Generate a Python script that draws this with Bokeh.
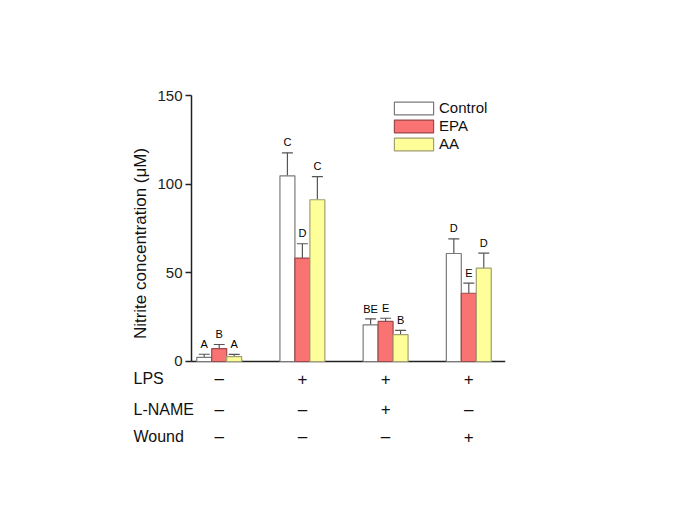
import math
from bokeh.plotting import figure
from bokeh.models import Range1d, ColumnDataSource, Legend, LegendItem, FixedTicker
from bokeh.core.properties import value
from bokeh.embed import file_html
from bokeh.resources import INLINE

# ---- data ----
groups = [0, 1, 2, 3]
series = ["Control", "EPA", "AA"]
control_mean = [2.3, 104.7, 20.7, 60.9]
control_err = [1.8, 13.0, 3.3, 8.3]
epa_mean = [7.3, 58.3, 22.6, 38.5]
epa_err = [2.3, 8.1, 1.8, 5.7]
aa_mean = [2.8, 91.2, 15.1, 52.6]
aa_err = [1.2, 13.1, 2.4, 8.5]
control_letters = ["A", "C", "BE", "D"]
epa_letters = ["B", "D", "E", "E"]
aa_letters = ["A", "C", "B", "D"]
row_names = ["LPS", "L-NAME", "Wound"]
lps = ["–", "+", "+", "+"]
lname = ["–", "–", "+", "–"]
wound = ["–", "–", "–", "+"]
y_ticks = [0, 50, 100, 150]
y_label = "Nitrite concentration (μM)"

FONT = "Liberation Sans"
fills = ["#ffffff", "#fa7373", "#ffff99"]
borders = ["#7a7a7a", "#9a4a4a", "#a0a070"]
offsets = [-0.18, 0.0, 0.18]
bar_w = 0.18

PX = 83.2   # px per group unit
PY = 1.7733 # px per y unit
XA = -27.7 / PX                 # y-axis position (data)
X1 = XA + 314 / PX              # right end of baseline
XS = XA - 91 / PX               # frame start (room for row names)
p = figure(width=677, height=498, output_backend="svg", toolbar_location=None,
           x_range=Range1d(XS, X1), y_range=Range1d(-60.34, 169.74),
           min_border_left=100, min_border_right=172, min_border_top=60,
           min_border_bottom=30)
p.outline_line_color = None
p.xgrid.visible = False
p.ygrid.visible = False
p.xaxis.visible = False
p.background_fill_color = "white"
p.border_fill_color = "white"

ax = p.yaxis[0]
ax.fixed_location = XA
ax.bounds = (0, 150)
ax.ticker = FixedTicker(ticks=y_ticks)
ax.axis_line_width = 1.5
ax.axis_line_color = "#222222"
ax.major_tick_line_color = "#222222"
ax.major_tick_line_width = 1.5
ax.major_tick_out = 6
ax.major_tick_in = 0
ax.minor_tick_line_color = None
ax.major_label_text_font = FONT
ax.major_label_text_font_size = "15px"
ax.major_label_text_color = "#222222"
ax.major_label_standoff = 3

# y-axis title
p.text(x=[XA - 51 / PX], y=[(361 - 243) / PY], text=[y_label], angle=math.pi / 2,
       text_font=value(FONT), text_font_size="17px", text_align="center",
       text_baseline="middle", text_color="#111111")

# baseline (x axis line at 0)
p.segment(x0=[XA], y0=[0], x1=[X1], y1=[0], line_color="#222222", line_width=1.5)

means = [control_mean, epa_mean, aa_mean]
errs = [control_err, epa_err, aa_err]
letters = [control_letters, epa_letters, aa_letters]
legend_items = []
for i in range(3):
    xs = [g + offsets[i] for g in groups]
    tops = [m + e for m, e in zip(means[i], errs[i])]
    src = ColumnDataSource(dict(x=xs, top=means[i], etop=tops, lab=letters[i],
                                xl=[x - 0.066 for x in xs], xr=[x + 0.066 for x in xs],
                                ly=[t + 2.5 for t in tops]))
    p.segment(x0="x", y0="top", x1="x", y1="etop", source=src, line_color="#555555", line_width=1.2)
    p.segment(x0="xl", y0="etop", x1="xr", y1="etop", source=src, line_color="#555555", line_width=1.2)
    r = p.vbar(x="x", top="top", bottom=0, width=bar_w, source=src,
               fill_color=fills[i], line_color=borders[i], line_width=1.2)
    legend_items.append(LegendItem(label=series[i], renderers=[r]))
    p.text(x="x", y="ly", text="lab", source=src, text_font=value(FONT),
           text_font_size="11px", text_align="center", text_baseline="bottom",
           text_color="#000000")

# condition table below the axis
rows = [lps, lname, wound]
row_y = [-9.6, -27, -42.3]
name_x = XA - (191 - 133) / PX
for ry, name, signs in zip(row_y, row_names, rows):
    p.text(x=[name_x], y=[ry], text=[name], text_font=value(FONT),
           text_font_size="16px", text_align="left", text_baseline="middle",
           text_color="#111111")
    p.text(x=groups, y=[ry] * 4, text=signs, text_font=value(FONT),
           text_font_size="17px", text_align="center", text_baseline="middle",
           text_color="#111111")

legend = Legend(items=legend_items, location=(289, 316), orientation="vertical",
                glyph_width=49, glyph_height=16, label_height=13, spacing=1,
                padding=0, margin=0, label_standoff=1,
                label_text_font=FONT, label_text_font_size="15px",
                label_text_color="#111111",
                border_line_color=None, background_fill_alpha=0)
p.add_layout(legend, "center")

open("out.html", "w").write(file_html(p, INLINE))
